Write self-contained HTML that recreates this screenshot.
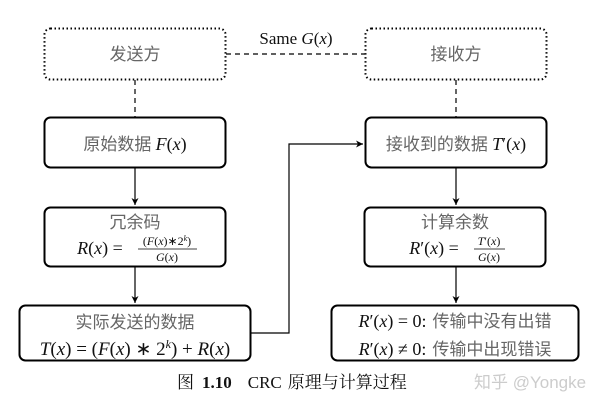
<!DOCTYPE html>
<html><head><meta charset="utf-8"><style>
html,body{margin:0;padding:0;background:#fff;}
svg{display:block;}
.cn{font-family:"Liberation Serif","Noto Sans CJK SC",serif;fill:#666;font-size:16px;}
.m{font-family:"Liberation Serif","Noto Serif CJK SC",serif;fill:#111;font-size:18px;}
.i{font-style:italic;}
</style></head><body>
<svg width="614" height="413" viewBox="0 0 614 413" xmlns="http://www.w3.org/2000/svg">
<defs><marker id="a" markerWidth="8" markerHeight="8" refX="7" refY="4" orient="auto" markerUnits="userSpaceOnUse"><path d="M0,0.5 L7,4 L0,7.5 L2,4z" fill="#000"/></marker></defs>
<g fill="none" stroke="#000">
<rect x="44.5" y="28.5" width="181" height="51" rx="6" stroke-width="2" stroke-dasharray="1.5,2.5"/>
<rect x="365.5" y="28.5" width="181" height="51" rx="6" stroke-width="2" stroke-dasharray="1.5,2.5"/>
<line x1="226" y1="54" x2="365" y2="54" stroke-width="1.2" stroke-dasharray="5,4"/>
<line x1="135" y1="80" x2="135" y2="117" stroke-width="1.2" stroke-dasharray="5,4"/>
<line x1="456" y1="80" x2="456" y2="117" stroke-width="1.2" stroke-dasharray="5,4"/>
<rect x="44.5" y="117.5" width="181" height="50" rx="6" stroke-width="2"/>
<rect x="365.5" y="117.5" width="181" height="50" rx="6" stroke-width="2"/>
<rect x="44.5" y="207.5" width="181" height="59" rx="6" stroke-width="2"/>
<rect x="364.5" y="207.5" width="181" height="59" rx="6" stroke-width="2"/>
<rect x="19.5" y="305.5" width="231" height="55" rx="6" stroke-width="2"/>
<rect x="331.5" y="305.5" width="247" height="55" rx="6" stroke-width="2"/>
<line x1="135" y1="168" x2="135" y2="205" stroke-width="1.2" marker-end="url(#a)"/>
<line x1="135" y1="267" x2="135" y2="303" stroke-width="1.2" marker-end="url(#a)"/>
<line x1="456" y1="168" x2="456" y2="205" stroke-width="1.2" marker-end="url(#a)"/>
<line x1="456" y1="267" x2="456" y2="303" stroke-width="1.2" marker-end="url(#a)"/>
<polyline points="251,333 289,333 289,144 363,144" stroke-width="1.2" marker-end="url(#a)"/>
</g>
<text class="cn" x="135" y="60" text-anchor="middle" style="font-size:17px">发送方</text>
<text class="cn" x="456" y="60" text-anchor="middle" style="font-size:17px">接收方</text>
<text class="m" x="296" y="44" text-anchor="middle" style="font-size:17px">Same <tspan class="i">G</tspan>(<tspan class="i">x</tspan>)</text>
<text x="135" y="150" text-anchor="middle"><tspan class="cn" style="font-size:17px">原始数据 </tspan><tspan class="m"><tspan class="i">F</tspan>(<tspan class="i">x</tspan>)</tspan></text>
<text x="456" y="150" text-anchor="middle"><tspan class="cn" style="font-size:17px">接收到的数据 </tspan><tspan class="m"><tspan class="i">T</tspan>′(<tspan class="i">x</tspan>)</tspan></text>
<text class="cn" x="135" y="228" text-anchor="middle" style="font-size:17px">冗余码</text>
<text class="m" x="100" y="254" text-anchor="middle"><tspan class="i">R</tspan>(<tspan class="i">x</tspan>) =</text>
<text class="m" x="167" y="245" text-anchor="middle" style="font-size:12px">(<tspan class="i">F</tspan>(<tspan class="i">x</tspan>)∗2<tspan dy="-4" style="font-size:8px" class="i">k</tspan><tspan dy="4">)</tspan></text>
<line x1="138" y1="249" x2="197" y2="249" stroke="#000" stroke-width="0.7"/>
<text class="m" x="167" y="261" text-anchor="middle" style="font-size:12px"><tspan class="i">G</tspan>(<tspan class="i">x</tspan>)</text>
<text class="cn" x="455" y="228" text-anchor="middle" style="font-size:17px">计算余数</text>
<text class="m" x="434" y="254" text-anchor="middle"><tspan class="i">R</tspan>′(<tspan class="i">x</tspan>) =</text>
<text class="m" x="489" y="245" text-anchor="middle" style="font-size:12px"><tspan class="i">T</tspan>′(<tspan class="i">x</tspan>)</text>
<line x1="474" y1="249" x2="505" y2="249" stroke="#000" stroke-width="0.7"/>
<text class="m" x="489" y="261" text-anchor="middle" style="font-size:12px"><tspan class="i">G</tspan>(<tspan class="i">x</tspan>)</text>
<text class="cn" x="135" y="328" text-anchor="middle" style="font-size:17px">实际发送的数据</text>
<text class="m" x="135" y="355" text-anchor="middle" style="font-size:19px"><tspan class="i">T</tspan>(<tspan class="i">x</tspan>) = (<tspan class="i">F</tspan>(<tspan class="i">x</tspan>) ∗ 2<tspan dy="-7" style="font-size:12px" class="i">k</tspan><tspan dy="7">) + </tspan><tspan class="i">R</tspan>(<tspan class="i">x</tspan>)</text>
<text x="455" y="327" text-anchor="middle"><tspan class="m"><tspan class="i">R</tspan>′(<tspan class="i">x</tspan>) = 0:</tspan><tspan class="cn" style="font-size:17px" dx="6">传输中没有出错</tspan></text>
<text x="455" y="355" text-anchor="middle"><tspan class="m"><tspan class="i">R</tspan>′(<tspan class="i">x</tspan>) ≠ 0:</tspan><tspan class="cn" style="font-size:17px" dx="6">传输中出现错误</tspan></text>
<text x="177" y="388" style="font-family:'Liberation Serif','Noto Serif CJK SC',serif;font-size:17px;fill:#111"><tspan>图</tspan><tspan font-weight="bold" dx="8">1.10</tspan><tspan dx="16">CRC</tspan><tspan dx="6">原理与计算过程</tspan></text>
<text x="474" y="388" style="font-family:'Liberation Sans','Noto Sans CJK SC',sans-serif;font-size:17px;fill:#ccc">知乎 @Yongke</text>
</svg>
</body></html>
